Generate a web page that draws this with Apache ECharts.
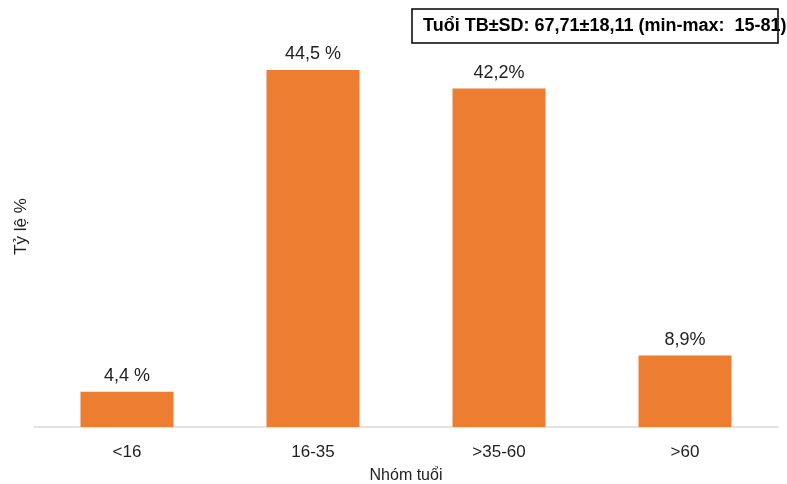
<!DOCTYPE html>
<html>
<head>
<meta charset="utf-8">
<script src="https://cdn.jsdelivr.net/npm/echarts@6/dist/echarts.min.js"></script>
<style>html,body{margin:0;padding:0;background:#fff}#c{width:787px;height:484px}</style>
</head>
<body>
<div id="c"></div>
<script>
const categories = ['<16', '16-35', '>35-60', '>60'];
const values = [4.4, 44.5, 42.2, 8.9];
const valueLabels = ['4,4 %', '44,5 %', '42,2%', '8,9%'];
const boxText = 'Tuổi TB±SD: 67,71±18,11 (min-max:  15-81)';

const chart = echarts.init(document.getElementById('c'));
const font = 'Liberation Sans, Arial, sans-serif';
const txt = '#222222';
chart.setOption({
  animation: false,
  grid: { left: 34, right: 9, top: 26, bottom: 57, containLabel: false, outerBoundsMode: 'none' },
  xAxis: {
    type: 'category',
    data: categories,
    name: 'Nhóm tuổi',
    nameLocation: 'middle',
    nameGap: 41,
    nameMoveOverlap: false,
    nameTextStyle: { fontFamily: font, fontSize: 16, color: txt },
    axisLine: { lineStyle: { color: '#d9d9d9', width: 1.5 } },
    axisTick: { show: false },
    axisLabel: { fontFamily: font, fontSize: 17, color: txt, margin: 17 }
  },
  yAxis: {
    type: 'value',
    min: 0, max: 50,
    name: 'Tỷ lệ %',
    nameLocation: 'middle',
    nameGap: 4,
    nameRotate: 90,
    nameMoveOverlap: false,
    nameTextStyle: { fontFamily: font, fontSize: 17, color: txt },
    axisLine: { show: false },
    axisTick: { show: false },
    axisLabel: { show: false },
    splitLine: { show: false }
  },
  series: [{
    type: 'bar',
    data: values.map((v, i) => ({ value: v, label: { formatter: valueLabels[i] } })),
    barWidth: '50%',
    itemStyle: { color: '#ED7D31' },
    label: { show: true, position: 'top', distance: 7, fontFamily: font, fontSize: 18, color: txt }
  }],
  graphic: [
    { type: 'rect', shape: { x: 412, y: 9, width: 366, height: 34 },
      style: { fill: '#fff', stroke: '#000', lineWidth: 1.5 }, z: 10 },
    { type: 'text', x: 423, y: 26, z: 11,
      style: { text: boxText, fontFamily: font, fontSize: 18, fontWeight: 'bold', fill: '#000', verticalAlign: 'middle' } }
  ]
});
</script>
</body>
</html>
